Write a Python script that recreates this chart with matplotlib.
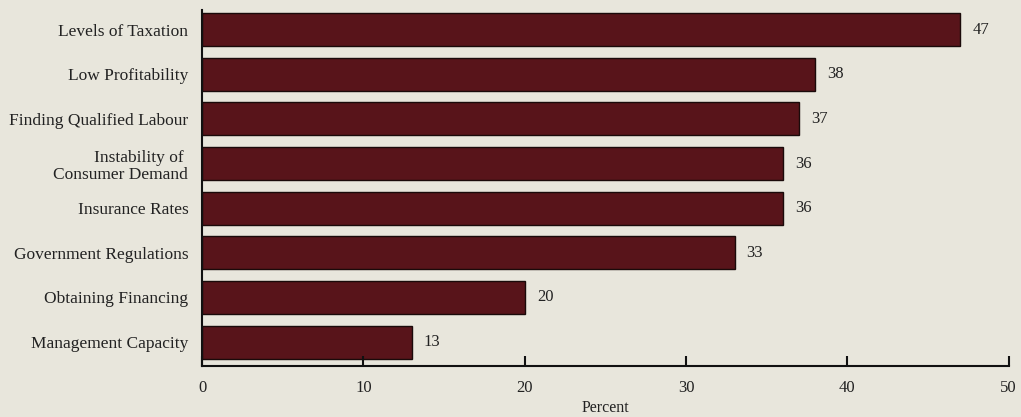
import matplotlib
matplotlib.use("Agg")
import matplotlib.pyplot as plt

categories = [
    "Levels of Taxation",
    "Low Profitability",
    "Finding Qualified Labour",
    "Instability of \nConsumer Demand",
    "Insurance Rates",
    "Government Regulations",
    "Obtaining Financing",
    "Management Capacity",
]
percent = [47, 38, 37, 36, 36, 33, 20, 13]
xticks = [0, 10, 20, 30, 40, 50]

bg = "#e8e6dc"
bar_color = "#58141a"

plt.rcParams["font.family"] = ["Liberation Serif", "DejaVu Serif"]

fig = plt.figure(figsize=(10.21, 4.17), dpi=100, facecolor=bg)
ax = fig.add_axes([0.198, 0.122, 0.79, 0.854], facecolor=bg)

ypos = list(range(len(categories)))
ax.barh(ypos, percent, height=0.74, color=bar_color, edgecolor="#1a0a0a", linewidth=1.0)

for y, v in zip(ypos, percent):
    ax.text(v + 0.75, y, str(v), va="center", ha="left", fontsize=12, color="#222222")

ax.set_xlim(0, 50)
ax.set_ylim(7.54, -0.44)
ax.set_yticks(ypos)
ax.set_yticklabels(categories, fontsize=12.5, color="#222222", linespacing=1.1)
ax.set_xticks(xticks)
ax.set_xticklabels([str(t) for t in xticks], fontsize=12, color="#222222")
ax.set_xlabel("Percent", fontsize=11.5, color="#222222", labelpad=3)

for side in ("top", "right"):
    ax.spines[side].set_visible(False)
for side in ("left", "bottom"):
    ax.spines[side].set_linewidth(1.5)
    ax.spines[side].set_color("#111111")

ax.tick_params(axis="y", length=0, pad=10)
ax.tick_params(axis="x", direction="in", length=7, width=1.5, pad=10, color="#111111")

fig.savefig("out.png", dpi=100, facecolor=bg)
